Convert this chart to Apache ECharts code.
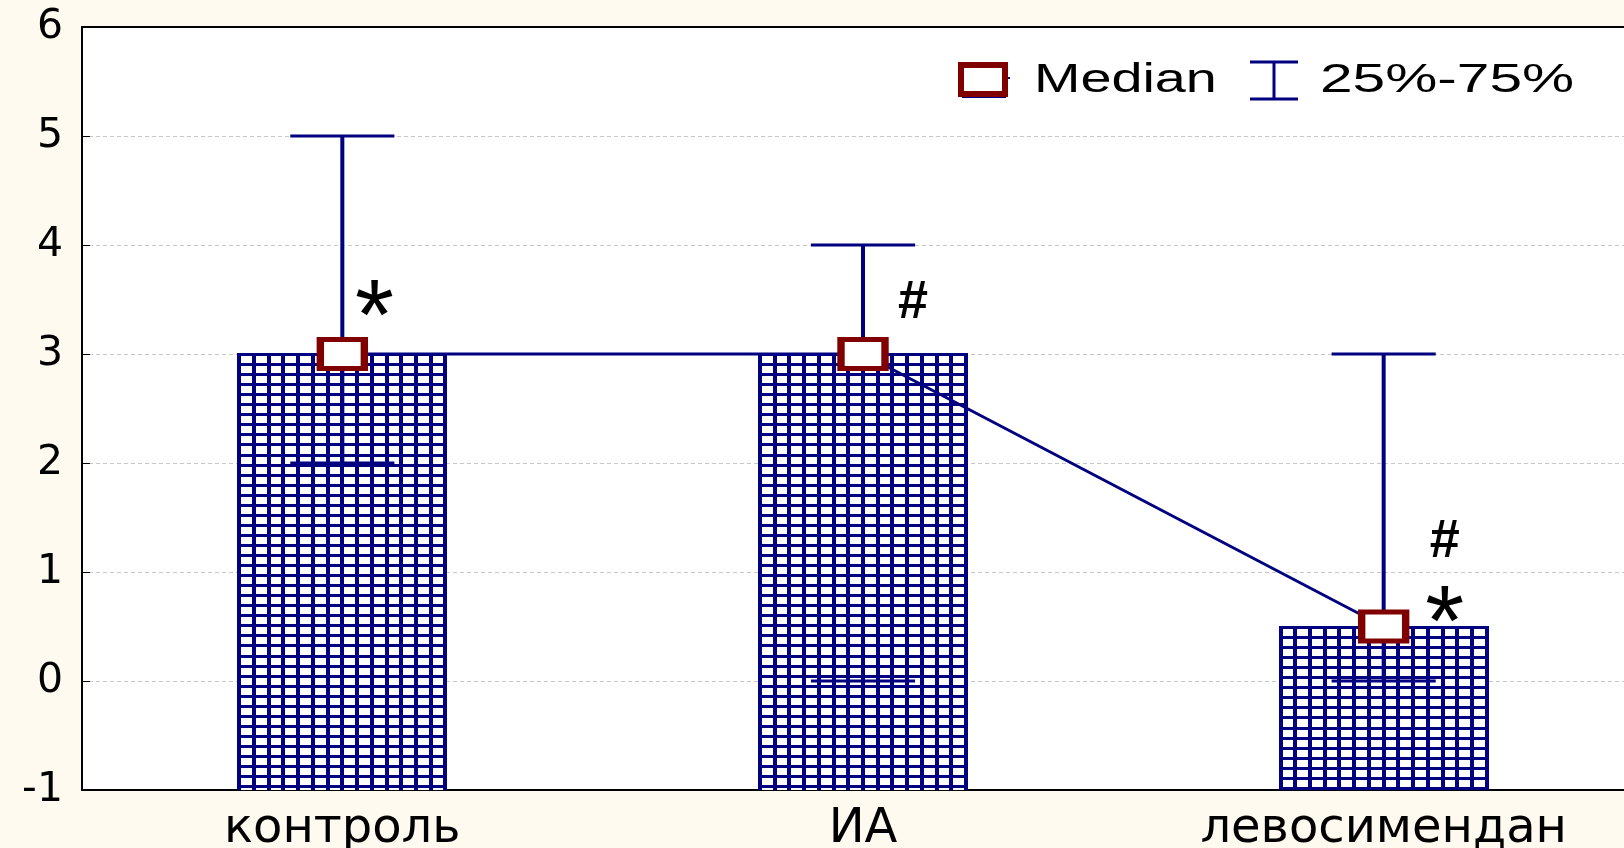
<!DOCTYPE html>
<html><head><meta charset="utf-8">
<script src="https://cdn.jsdelivr.net/npm/echarts@6/dist/echarts.min.js"></script>
<style>html,body{margin:0;padding:0;background:#FFFAF0;overflow:hidden}#c{width:1650px;height:848px}</style>
</head><body><div id="c"></div><script>
// ---- data ----
const categories = ['контроль', 'ИА', 'левосимендан'];
const medians = [3, 3, 0.5];
const q25 = [2, 0, 0];
const q75 = [5, 4, 3];
const yMin = -1, yMax = 6, yStep = 1;
const annotationCats = ['контроль', 'ИА', 'левосимендан', 'левосимендан'];
const annotationY = [3.52, 3.47, 1.27, 0.71];
const annotationText = ['*', '#', '#', '*'];
const legendNames = ['Median', '25%-75%'];

// ---- styles ----
const NAVY = '#000080', MAROON = '#800000';
const annOffsetX = {'контроль': 32, 'ИА': 50, 'левосимендан': 61};

const chart = echarts.init(document.getElementById('c'));

function barItem(params, api) {
  const ci = api.value(0);
  const top = api.coord([ci, api.value(1)]);
  const bottom = api.coord([ci, yMin]);
  const w = api.size([1, 0])[0] * 0.396;
  const x0 = top[0] - w / 2, y0 = Math.round(top[1]), y1 = bottom[1];
  const children = [{type: 'rect', shape: {x: x0, y: y0, width: w, height: y1 - y0}, style: {fill: '#fff'}}];
  const nCols = 14;
  for (let i = 0; i <= nCols; i++) {
    const x = Math.round(x0 + i * w / nCols);
    children.push({type: 'line', shape: {x1: x, y1: y0 - 1, x2: x, y2: y1}, style: {stroke: NAVY, lineWidth: 4}});
  }
  for (let k = 0; y0 + k * 10.05 <= y1; k++) {
    const y = Math.round(y0 + k * 10.05) + 0.5;
    children.push({type: 'line', shape: {x1: Math.round(x0) - 2, y1: y, x2: Math.round(x0 + w) + 2, y2: y}, style: {stroke: NAVY, lineWidth: 3}});
  }
  return {type: 'group', children};
}

function errItem(params, api) {
  const ci = api.value(0);
  const lo = api.coord([ci, api.value(1)]);
  const hi = api.coord([ci, api.value(2)]);
  const cw = api.size([1, 0])[0] * 0.2;
  return {type: 'group', children: [
    {type: 'line', shape: {x1: hi[0], y1: hi[1], x2: lo[0], y2: lo[1]}, style: {stroke: NAVY, lineWidth: 4}},
    {type: 'line', shape: {x1: hi[0] - cw / 2, y1: hi[1], x2: hi[0] + cw / 2, y2: hi[1]}, style: {stroke: NAVY, lineWidth: 3}},
    {type: 'line', shape: {x1: lo[0] - cw / 2, y1: lo[1], x2: lo[0] + cw / 2, y2: lo[1]}, style: {stroke: NAVY, lineWidth: 3}}
  ]};
}

const option = {
  backgroundColor: '#FFFAF0',
  animation: false,
  grid: {left: 82, top: 27, width: 1562, height: 763, show: true, backgroundColor: '#fff', borderWidth: 0,
         containLabel: false, outerBoundsMode: 'none'},
  xAxis: [
    {type: 'category', data: categories, position: 'bottom',
     axisLine: {onZero: false, lineStyle: {color: '#000', width: 2}},
     axisTick: {inside: true, alignWithLabel: true, length: 8, lineStyle: {color: '#000', width: 1}},
     axisLabel: {color: '#000', fontFamily: 'DejaVu Sans', fontSize: 48, margin: 16}},
    {type: 'category', data: categories, position: 'top',
     axisLine: {onZero: false, lineStyle: {color: '#000', width: 2}},
     axisTick: {inside: true, alignWithLabel: true, length: 8, lineStyle: {color: '#000', width: 1}},
     axisLabel: {show: false}}
  ],
  yAxis: {type: 'value', min: yMin, max: yMax, interval: yStep,
    axisLine: {show: true, lineStyle: {color: '#000', width: 2}},
    axisTick: {show: true, inside: true, length: 8, lineStyle: {color: '#000', width: 1}},
    axisLabel: {color: '#000', fontFamily: 'DejaVu Sans', fontSize: 41, margin: 19},
    splitLine: {show: true, lineStyle: {color: '#c8c8c8', type: [4, 3], width: 1}}
  },
  series: [
    {type: 'custom', name: 'bars', z: 2, renderItem: barItem,
     data: categories.map((c, i) => [i, medians[i]])},
    {type: 'custom', name: legendNames[1], z: 3, renderItem: errItem,
     data: categories.map((c, i) => [i, q25[i], q75[i]])},
    {type: 'line', name: legendNames[0], z: 4, data: medians,
     lineStyle: {color: NAVY, width: 3},
     symbol: 'rect', symbolSize: [44, 29], showSymbol: true,
     itemStyle: {color: '#fff', borderColor: MAROON, borderWidth: 6}},
    {type: 'scatter', z: 5, symbolSize: 0, silent: true, itemStyle: {opacity: 1},
     data: annotationCats.map((c, i) => ({
       value: [c, annotationY[i]],
       label: {show: true, formatter: annotationText[i], offset: [annOffsetX[c], annotationText[i] === '*' ? 24 : 0],
               fontSize: annotationText[i] === '*' ? 100 : 54, fontWeight: annotationText[i] === '*' ? 'normal' : 'bold',
               color: '#000', opacity: 1, textBorderWidth: 0, textShadowBlur: 0, fontFamily: 'Liberation Sans',
               position: 'inside', verticalAlign: 'middle', align: 'center'}
     }))}
  ],
  graphic: [
    {type: 'group', z: 9, children: [
      {type: 'line', shape: {x1: 962, y1: 97, x2: 1006, y2: 97}, style: {stroke: NAVY, lineWidth: 2}},
      {type: 'line', shape: {x1: 1006, y1: 78, x2: 1010, y2: 78}, style: {stroke: NAVY, lineWidth: 2}}
    ]},
    {type: 'rect', left: 958, top: 62, shape: {width: 44, height: 29}, style: {fill: '#fff', stroke: MAROON, lineWidth: 6}, z: 10},
    {type: 'text', x: 1034, y: 81, scaleX: 1.36, z: 10,
     style: {text: legendNames[0], font: '41px "Liberation Sans"', fill: '#000', textVerticalAlign: 'middle'}},
    {type: 'group', z: 10, children: [
      {type: 'line', shape: {x1: 1250, y1: 62, x2: 1298, y2: 62}, style: {stroke: NAVY, lineWidth: 3}},
      {type: 'line', shape: {x1: 1250, y1: 99, x2: 1298, y2: 99}, style: {stroke: NAVY, lineWidth: 3}},
      {type: 'line', shape: {x1: 1274, y1: 62, x2: 1274, y2: 99}, style: {stroke: NAVY, lineWidth: 3}}
    ]},
    {type: 'text', x: 1320, y: 81, scaleX: 1.43, z: 10,
     style: {text: legendNames[1], font: '41px "Liberation Sans"', fill: '#000', textVerticalAlign: 'middle'}}
  ]
};
chart.setOption(option);
</script></body></html>
